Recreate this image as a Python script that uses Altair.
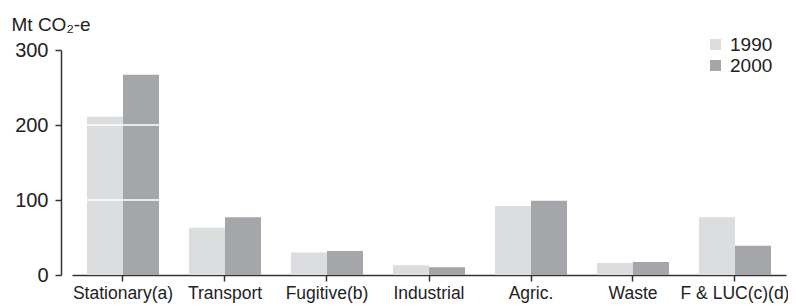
import altair as alt
import pandas as pd

categories = ["Stationary(a)", "Transport", "Fugitive(b)", "Industrial", "Agric.", "Waste", "F & LUC(c)(d)"]
years = ["1990", "2000"]
v1990 = [211, 63, 30, 13, 92, 16, 77]
v2000 = [267, 77, 32, 10.5, 100, 17.5, 39]
y_ticks = [0, 100, 200, 300]
grid_values = [100, 200]

rows = []
for c, a, b in zip(categories, v1990, v2000):
    rows.append({"sector": c, "year": "1990", "value": a})
    rows.append({"sector": c, "year": "2000", "value": b})
df = pd.DataFrame(rows)
grid_df = pd.DataFrame({"g": grid_values})

FONT = "Liberation Sans"
AXC = "#333333"

yscale = alt.Scale(domain=[0, 300], nice=False)

bars = alt.Chart(df).mark_bar().encode(
    x=alt.X("sector:N", sort=categories, title=None,
            scale=alt.Scale(paddingInner=0.294, paddingOuter=0.147),
            axis=alt.Axis(labelAngle=0, labelFontSize=17.5, labelFont=FONT, labelColor="#222",
                          domain=True, ticks=True,
                          domainColor=AXC, domainWidth=1.5, tickColor=AXC, tickWidth=1.5,
                          tickSize=6, labelPadding=3, labelOverlap=False)),
    xOffset=alt.XOffset("year:N", sort=years),
    y=alt.Y("value:Q", title="Mt CO₂-e", scale=yscale,
            axis=alt.Axis(values=y_ticks, offset=11, grid=False, domain=True, ticks=True,
                          labelFontSize=20, labelFont=FONT, labelColor="#222",
                          domainColor=AXC, domainWidth=1.5, tickColor=AXC, tickWidth=1.5,
                          tickSize=6, labelPadding=7,
                          titleAngle=0, titleAlign="left", titleBaseline="alphabetic",
                          titleX=-50, titleY=-20, titleFont=FONT, titleFontSize=19,
                          titleFontWeight="normal", titleColor="#222")),
    color=alt.Color("year:N", sort=years,
                    scale=alt.Scale(domain=years, range=["#dcdddf", "#a5a6a9"]),
                    legend=alt.Legend(title=None, orient="none", legendX=634, legendY=-15,
                                      symbolType="square", symbolSize=121, symbolStrokeWidth=0,
                                      labelFont=FONT, labelFontSize=19, labelColor="#222",
                                      rowPadding=1, labelOffset=5)),
)

grid = alt.Chart(grid_df).mark_rule(color="white", strokeWidth=1.5).encode(
    y=alt.Y("g:Q", scale=yscale),
)

chart = alt.layer(bars, grid).properties(
    width=714, height=225,
    autosize=alt.AutoSizeParams(type="none"),
    padding={"left": 64, "top": 42, "right": 2, "bottom": 36},
).configure_view(stroke=None)

chart.save("out.html", embed_options={"renderer": "svg", "actions": False})
